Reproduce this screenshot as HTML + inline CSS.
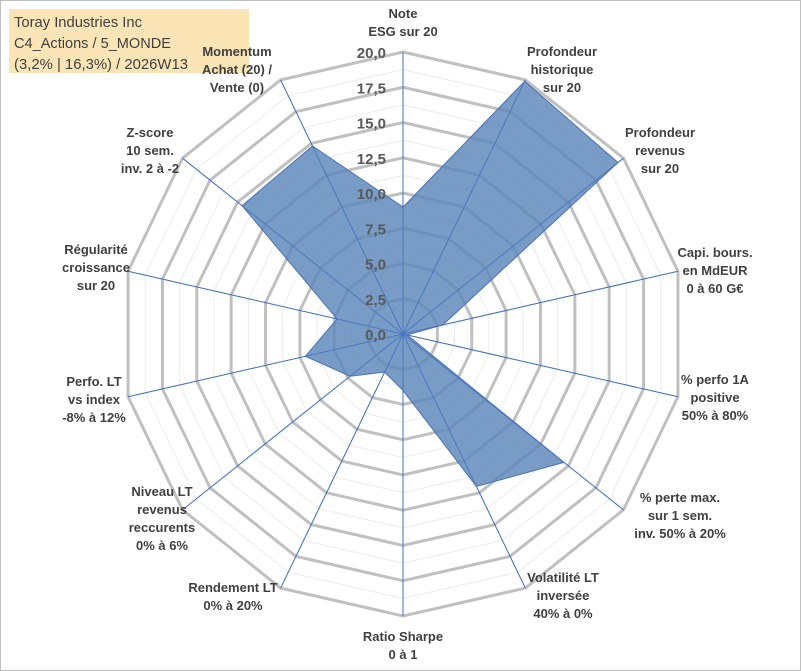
<!DOCTYPE html>
<html><head><meta charset="utf-8"><style>
body{margin:0;background:#fff;}
#wrap{position:relative;width:801px;height:671px;overflow:hidden;background:#fff;font-family:"Liberation Sans",Arial,sans-serif;}
svg text{font-family:"Liberation Sans",Arial,sans-serif;}
</style></head><body>
<div id="wrap">
<svg id="chart" width="801" height="671">
<rect x="0.5" y="0.5" width="800" height="670" fill="#fff" stroke="#bfbfbf"/>
<rect x="9" y="9" width="240" height="64" fill="#fbe5b6"/>
<text x="14" y="27" font-size="15" fill="#404040" textLength="128" lengthAdjust="spacingAndGlyphs">Toray Industries Inc</text>
<text x="14" y="48" font-size="15" fill="#404040" textLength="157" lengthAdjust="spacingAndGlyphs">C4_Actions / 5_MONDE</text>
<text x="14" y="69" font-size="15" fill="#404040" textLength="174" lengthAdjust="spacingAndGlyphs">(3,2% | 16,3%) / 2026W13</text>
<g id="grid"></g><g id="series"></g><g id="ticks"></g><g id="labels"></g>
</svg>
</div>
<script>
const categories=[["Note","ESG sur 20"],["Profondeur","historique","sur 20"],["Profondeur","revenus","sur 20"],["Capi. bours.","en MdEUR","0 à 60 G€"],["% perfo 1A","positive","50% à 80%"],["% perte max.","sur 1 sem.","inv. 50% à 20%"],["Volatilité LT","inversée","40% à 0%"],["Ratio Sharpe","0 à 1"],["Rendement LT","0% à 20%"],["Niveau LT","revenus","reccurents","0% à 6%"],["Perfo. LT","vs index","-8% à 12%"],["Régularité","croissance","sur 20"],["Z-score","10 sem.","inv. 2 à -2"],["Momentum","Achat (20) /","Vente (0)"]];
const values=[9.0,19.9,19.5,2.9,0.3,14.6,12.0,4.0,3.0,4.8,7.1,4.8,14.6,14.8];
const tickLabels=["0,0","2,5","5,0","7,5","10,0","12,5","15,0","17,5","20,0"];
const tickValues=[0,2.5,5,7.5,10,12.5,15,17.5,20];
const CX=403,CY=334,R=282,MAX=20,N=categories.length;
const NS="http://www.w3.org/2000/svg";
function rad(v){return v/MAX*R;}
function pt(i,v){const a=2*Math.PI*i/N;return [CX+rad(v)*Math.sin(a),CY-rad(v)*Math.cos(a)];}
function mk(tag,attrs,parent){const e=document.createElementNS(NS,tag);for(const k in attrs)e.setAttribute(k,attrs[k]);parent.appendChild(e);return e;}
const grid=document.getElementById('grid');
for(let m=1.25;m<20;m+=2.5){const p=[];for(let i=0;i<N;i++)p.push(pt(i,m).join(','));
const e=mk('polygon',{points:p.join(' '),fill:'none',stroke:'#ececec','stroke-width':1},grid);

}
tickValues.forEach(t=>{if(t===0)return;const p=[];for(let i=0;i<N;i++)p.push(pt(i,t).join(','));
const e=mk('polygon',{points:p.join(' '),fill:'none',stroke:'#c0c0c0','stroke-width':3},grid);

});
for(let i=0;i<N;i++){const q=pt(i,MAX);
const e=mk('line',{x1:CX,y1:CY,x2:q[0],y2:q[1],stroke:'#4472c4','stroke-width':1},grid);

}
const ser=document.getElementById('series');
const sp=values.map((v,i)=>pt(i,v).join(',')).join(' ');
const poly=mk('polygon',{points:sp,fill:'#5a86b9','fill-opacity':0.82,stroke:'#4a72b0','stroke-width':1},ser);


for(let i=0;i<N;i++){const q=pt(i,MAX);
const e=mk('line',{x1:CX,y1:CY,x2:q[0],y2:q[1],stroke:'#4472c4','stroke-width':0.8,'stroke-opacity':0.6},ser);

}
const tk=document.getElementById('ticks');
tickValues.forEach((t,k)=>{const e=mk('text',{x:386,y:CY-rad(t)+6,'text-anchor':'end','font-size':15,'font-weight':'bold',fill:'#595959'},tk);
e.textContent=tickLabels[k];

});
const lblPos=[[403,14],[562,52],[660,133],[715,253],[715,380],[680,498],[563,578],[403,637],[233,588],[162,492],[94,382],[96,250],[150,133],[237,52]];
const lb=document.getElementById('labels');
categories.forEach((c,i)=>{const t=mk('text',{x:lblPos[i][0],y:lblPos[i][1]+4,'text-anchor':'middle','font-size':13,'font-weight':'bold',fill:'#404040'},lb);


c.forEach((s,j)=>{const ts=mk('tspan',{x:lblPos[i][0],dy:j===0?0:18},t);ts.textContent=s;});});
</script>
</body></html>
